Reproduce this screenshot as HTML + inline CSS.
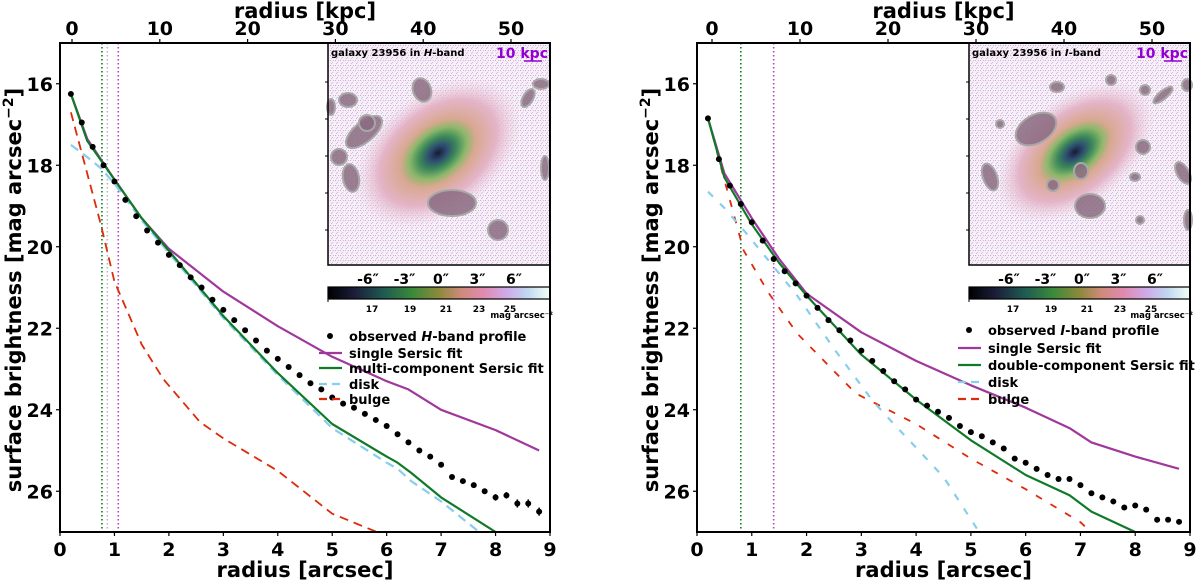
<!DOCTYPE html>
<html><head><meta charset="utf-8">
<style>
html,body{margin:0;padding:0;background:#fff;}
svg{display:block;font-family:"DejaVu Sans","Liberation Sans",sans-serif;font-weight:bold;}
</style></head>
<body>
<svg id="fig" width="1200" height="580" viewBox="0 0 1200 580" xmlns="http://www.w3.org/2000/svg">
<defs>
<linearGradient id="cbar" x1="0" x2="1" y1="0" y2="0">
<stop offset="0" stop-color="#000000"/><stop offset="0.12" stop-color="#1c1d3a"/><stop offset="0.25" stop-color="#1e5a52"/><stop offset="0.38" stop-color="#3a8a3a"/><stop offset="0.5" stop-color="#8c8a3a"/><stop offset="0.6" stop-color="#d08a7a"/><stop offset="0.7" stop-color="#e08ab0"/><stop offset="0.8" stop-color="#d0a8e8"/><stop offset="0.9" stop-color="#c0d8f0"/><stop offset="1" stop-color="#f4fff8"/>
</linearGradient>
<radialGradient id="gal">
<stop offset="0" stop-color="#1a1a30"/><stop offset="0.1" stop-color="#2c4a70"/><stop offset="0.22" stop-color="#3d8a5a"/><stop offset="0.34" stop-color="#8cb86a"/><stop offset="0.45" stop-color="#d8a890"/><stop offset="0.7" stop-color="#e4b4c8"/><stop offset="1" stop-color="#ecd6e6" stop-opacity="0"/>
</radialGradient>
<pattern id="noise" width="5" height="5" patternUnits="userSpaceOnUse">
<rect width="5" height="5" fill="#f6eef6"/><rect x="0" y="0" width="1" height="1" fill="#d0a8d8"/><rect x="2" y="2" width="1" height="1" fill="#c8c0ec"/><rect x="3" y="0" width="1" height="1" fill="#e0b0cc"/><rect x="1" y="3" width="1" height="1" fill="#d8b8e4"/><rect x="4" y="4" width="1" height="1" fill="#ffffff"/>
</pattern>
</defs>
<g id="root"></g>
</svg>
<script>
// ---- data: left panel (H band) ----
const hDotsX=[0.2,0.4,0.6,0.8,1.0,1.2,1.4,1.6,1.8,2.0,2.2,2.4,2.6,2.8,3.0,3.2,3.4,3.6,3.8,4.0,4.2,4.4,4.6,4.8,5.0,5.2,5.4,5.6,5.8,6.0,6.2,6.4,6.6,6.8,7.0,7.2,7.4,7.6,7.8,8.0,8.2,8.4,8.6,8.8];
const hDotsY=[16.25,16.95,17.55,18.0,18.4,18.85,19.25,19.6,19.9,20.2,20.45,20.75,21.0,21.3,21.55,21.8,22.05,22.3,22.55,22.75,22.95,23.15,23.35,23.5,23.7,23.85,23.95,24.1,24.25,24.4,24.6,24.8,25.0,25.15,25.35,25.65,25.75,25.85,26.0,26.15,26.1,26.3,26.3,26.5];
const hErr=[0,0,0,0,0,0,0,0,0,0,0,0,0,0,0,0,0,0,0,0,0,0,0,0,0,0,0,0,0,0,0,0,0,0,0,0,0,0,0.05,0.08,0.08,0.1,0.1,0.1];
const hSingleX=[0.2,0.5,1,1.5,2,3,4,5,6,6.4,7,8,8.8];
const hSingleY=[16.25,17.35,18.35,19.3,20.05,21.1,21.95,22.7,23.3,23.5,24.0,24.5,25.0];
const hMultiX=[0.2,0.5,1,1.5,2,3,4,5,6,6.2,6.45,7,8];
const hMultiY=[16.25,17.4,18.35,19.3,20.1,21.7,23.1,24.35,25.15,25.3,25.55,26.15,27.0];
const hDiskX=[0.2,0.5,0.75,1,1.5,2,3,4,5,6,6.2,6.45,7,7.7];
const hDiskY=[17.5,17.8,18.07,18.45,19.35,20.15,21.75,23.15,24.45,25.3,25.45,25.75,26.25,27.0];
const hBulgeX=[0.2,0.5,0.75,1.0,1.5,1.9,2.57,3,4,5,5.82];
const hBulgeY=[16.7,18.2,19.45,20.85,22.4,23.25,24.3,24.7,25.5,26.55,27.0];
// ---- data: right panel (I band) ----
const iDotsX=hDotsX.slice();
const iDotsY=[16.85,17.85,18.5,18.95,19.4,19.85,20.3,20.6,20.9,21.2,21.5,21.8,22.05,22.3,22.55,22.8,23.05,23.3,23.5,23.75,23.9,24.05,24.2,24.4,24.55,24.65,24.8,24.95,25.2,25.3,25.45,25.6,25.7,25.7,25.85,26.05,26.15,26.25,26.4,26.35,26.45,26.7,26.7,26.75];
const iSingleX=[0.2,0.5,1,1.5,2,3,4,5,6,6.8,7.2,8,8.8];
const iSingleY=[16.85,18.2,19.3,20.3,21.15,22.1,22.8,23.4,23.95,24.45,24.8,25.15,25.45];
const iDoubleX=[0.2,0.5,1,1.5,2,3,4,5,6,6.8,7.2,8];
const iDoubleY=[16.85,18.3,19.45,20.4,21.2,22.65,23.75,24.75,25.6,26.1,26.5,27.0];
const iDiskX=[0.2,0.5,0.9,1.83,2.5,3.2,3.56,4,4.5,5.15];
const iDiskY=[18.65,19.05,19.67,21.2,22.5,23.77,24.3,24.93,25.65,27.0];
const iBulgeX=[0.2,0.46,0.85,1.31,1.83,2.9,4,5,6,7,7.15];
const iBulgeY=[16.84,18.16,20.09,21.14,22.13,23.6,24.35,25.2,25.95,26.76,26.95];
const xTicks=[0,1,2,3,4,5,6,7,8,9];
const yTicks=[16,18,20,22,24,26];
const kpcTicks=[0,10,20,30,40,50];
const cbTicks=[17,19,21,23,25];
const insetTicks=["-6″","-3″","0″","3″","6″"];

const NS="http://www.w3.org/2000/svg";
const root=document.getElementById('root');
function mk(tag,attrs,parent,text){const e=document.createElementNS(NS,tag);for(const k in attrs)e.setAttribute(k,attrs[k]);if(text!==undefined)e.textContent=text;(parent||root).appendChild(e);return e;}
const cbOff=[44,82,118,151,182];

function panel(P){
  const g=mk('g',{});
  
  
  const X=v=>P.x0+(v/9)*(P.x1-P.x0);
  const Y=m=>43+(m-15)*40.75;
  const K=k=>P.k0+k*P.kpx;
  const clip='clip-'+P.name;
  const cp=mk('clipPath',{id:clip},g);mk('rect',{x:P.x0,y:43,width:P.x1-P.x0,height:489},cp);
  const plot=mk('g',{'clip-path':'url(#'+clip+')'},g);
  P.vlines.forEach(v=>{const l=mk('line',{x1:X(v[0]),x2:X(v[0]),y1:43,y2:532,stroke:v[1],'stroke-width':1.6,'stroke-dasharray':'1.5,2.5'},plot);
    });
  function line(xs,ys,col,dash,name,w){const d=xs.map((x,i)=>(i?'L':'M')+X(x).toFixed(1)+','+Y(ys[i]).toFixed(1)).join('');
    const p=mk('path',{d:d,fill:'none',stroke:col,'stroke-width':w||2,'stroke-dasharray':dash||'none','stroke-linejoin':'round'},plot);
    }
  line(P.bulgeX,P.bulgeY,'#dd2a0a',P.dash,'bulge-line',1.8);
  line(P.diskX,P.diskY,'#87ceeb',P.dash,'disk-line',2.2);
  line(P.singleX,P.singleY,'#a0389c','','single-sersic-line',2.2);
  line(P.multiX,P.multiY,'#0f7a28','','multi-sersic-line',2.2);
  P.dotsX.forEach((x,i)=>{
    if(P.err&&P.err[i]>0){const e=mk('line',{x1:X(x),x2:X(x),y1:Y(P.dotsY[i]-P.err[i]),y2:Y(P.dotsY[i]+P.err[i]),stroke:'#000','stroke-width':1.5},plot);
      }
    const c=mk('circle',{cx:X(x),cy:Y(P.dotsY[i]),r:3,fill:'#000'},plot);
    
  });
  // inset image
  const ins=mk('g',{},g);
  const ix=P.ix, iw=P.x1-ix;
  mk('rect',{x:ix,y:43,width:iw,height:222,fill:'url(#noise)'},ins);
  mk('ellipse',{cx:P.cx,cy:P.cy,rx:P.grx,ry:P.gry,fill:'url(#gal)',transform:'rotate(-38 '+P.cx+' '+P.cy+')'},ins);
  P.blobs.forEach(b=>{mk('ellipse',{cx:b[0],cy:b[1],rx:b[2],ry:b[3],fill:'#8a6a80','fill-opacity':0.85,stroke:'#a8a8a8','stroke-width':2,transform:'rotate('+b[4]+' '+b[0]+' '+b[1]+')'},ins);});
  mk('rect',{x:ix,y:43,width:iw,height:222,fill:'none',stroke:'#000','stroke-width':1.5},ins);
  for(let j=0;j<5;j++)mk('line',{x1:ix-3,x2:ix,y1:82+j*37,y2:82+j*37,stroke:'#000'},ins);
  const tt=mk('text',{x:ix+3,y:56,'font-size':10,fill:'#000'},ins);
  
  tt.appendChild(document.createTextNode('galaxy 23956 in '));mk('tspan',{'font-style':'italic'},tt,P.band);tt.appendChild(document.createTextNode('-band'));
  const sb=mk('text',{x:P.x1-2,y:58,'text-anchor':'end','font-size':14,fill:'#9400d3'},ins,'10 kpc');
  
  mk('line',{x1:P.x1-26,x2:P.x1-8,y1:61,y2:61,stroke:'#9400d3','stroke-width':1.5},ins);
  insetTicks.forEach((t,j)=>{const e=mk('text',{x:ix+40+j*36.5,y:284,'text-anchor':'middle','font-size':14},g,t);
    });
  const cb=mk('rect',{x:ix,y:287,width:iw,height:12,fill:'url(#cbar)',stroke:'#000','stroke-width':1.2},g);
  
  mk('line',{x1:ix,x2:ix,y1:299,y2:302,stroke:'#000'},g);
  cbTicks.forEach((t,j)=>{const px=ix+cbOff[j];
    const e=mk('text',{x:px,y:312,'text-anchor':'middle','font-size':9},g,String(t));
    });
  const cu=mk('text',{x:P.x1+3,y:318,'text-anchor':'end','font-size':8.5},g);cu.textContent='mag arcsec⁻²';
  
  // legend
  const L=mk('g',{},g);
  const lx=P.lx, rows=P.lrows;
  const labels=[null,'single Sersic fit',P.multiLabel,'disk','bulge'];
  mk('circle',{cx:lx+11,cy:rows[0],r:3,fill:'#000'},L);
  const t0=mk('text',{x:lx+30,y:rows[0]+5,'font-size':13},L);
  
  t0.appendChild(document.createTextNode('observed '));mk('tspan',{'font-style':'italic'},t0,P.band);t0.appendChild(document.createTextNode('-band profile'));
  const cols=[null,'#a0389c','#0f7a28','#87ceeb','#dd2a0a'];
  for(let j=1;j<5;j++){
    mk('line',{x1:lx,x2:lx+23,y1:rows[j],y2:rows[j],stroke:cols[j],'stroke-width':2.2,'stroke-dasharray':j>2?'8,5':'none'},L);
    const e=mk('text',{x:lx+30,y:rows[j]+5,'font-size':13},L,labels[j]);
    
  }
  mk('rect',{x:P.x0,y:43,width:P.x1-P.x0,height:489,fill:'none',stroke:'#000','stroke-width':2},g);
  xTicks.forEach(t=>{mk('line',{x1:X(t),x2:X(t),y1:532,y2:536,stroke:'#000','stroke-width':1.2},g);
    const e=mk('text',{x:X(t),y:556,'text-anchor':'middle','font-size':19},g,String(t));
    });
  yTicks.forEach(t=>{mk('line',{x1:P.x0-4,x2:P.x0,y1:Y(t),y2:Y(t),stroke:'#000','stroke-width':1.2},g);
    const e=mk('text',{x:P.x0-7,y:Y(t)+7,'text-anchor':'end','font-size':19},g,String(t));
    });
  kpcTicks.forEach(t=>{mk('line',{x1:K(t),x2:K(t),y1:39,y2:43,stroke:'#000','stroke-width':1.2},g);
    const e=mk('text',{x:K(t),y:35,'text-anchor':'middle','font-size':19},g,String(t));
    });
  const xa=mk('text',{x:(P.x0+P.x1)/2,y:577,'text-anchor':'middle','font-size':21},g,'radius [arcsec]');
  
  const ta=mk('text',{x:(P.x0+P.x1)/2,y:18,'text-anchor':'middle','font-size':21},g,'radius [kpc]');
  
  const ya=mk('text',{x:0,y:0,'text-anchor':'middle','font-size':21,transform:'translate('+(P.x0-39)+',290) rotate(-90)'},g);
  
  ya.appendChild(document.createTextNode('surface brightness [mag arcsec'));mk('tspan',{'font-size':14,dy:-8},ya,'−2');mk('tspan',{dy:8},ya,']');
}

panel({name:'h-band-panel',x0:60,x1:550,k0:72,kpx:8.78,band:'H',ix:328,cx:438,cy:153,grx:95,gry:62,dash:'9,6',
  dotsX:hDotsX,dotsY:hDotsY,err:hErr,singleX:hSingleX,singleY:hSingleY,multiX:hMultiX,multiY:hMultiY,diskX:hDiskX,diskY:hDiskY,bulgeX:hBulgeX,bulgeY:hBulgeY,
  vlines:[[0.77,'#0a7a1e'],[0.87,'#bbbbbb'],[1.07,'#c040c0']],multiLabel:'multi-component Sersic fit',lx:319,lrows:[336,353,368,384,399],
  blobs:[[364,132,22,10,-40],[452,203,24,13,0],[498,230,10,10,0],[367,123,8,8,0],[348,100,9,7,0],[339,157,8,8,0],[351,178,8,14,-10],[422,90,9,12,-20],[528,98,5,10,30],[541,84,8,5,0],[545,168,4,12,0],[331,107,4,8,0]]});
panel({name:'i-band-panel',x0:697,x1:1190,k0:712,kpx:8.8,band:'I',ix:969,cx:1075,cy:152,grx:92,gry:55,dash:'7,10',
  dotsX:iDotsX,dotsY:iDotsY,err:null,singleX:iSingleX,singleY:iSingleY,multiX:iDoubleX,multiY:iDoubleY,diskX:iDiskX,diskY:iDiskY,bulgeX:iBulgeX,bulgeY:iBulgeY,
  vlines:[[0.8,'#0a7a1e'],[1.4,'#c040c0']],multiLabel:'double-component Sersic fit',lx:958,lrows:[330,348,365,382,399],
  blobs:[[1036,129,22,14,-30],[1081,171,7,8,0],[1090,206,15,12,0],[990,177,7,14,-20],[1057,87,7,5,0],[1111,80,5,5,0],[1145,90,5,5,0],[1163,95,12,4,-40],[1183,173,6,12,-30],[1143,147,7,7,0],[1135,177,5,4,0],[1188,220,4,10,0],[1000,124,4,4,0],[1140,220,4,4,0],[1187,85,5,6,0],[1053,185,6,6,0]]});
</script>
</body></html>
